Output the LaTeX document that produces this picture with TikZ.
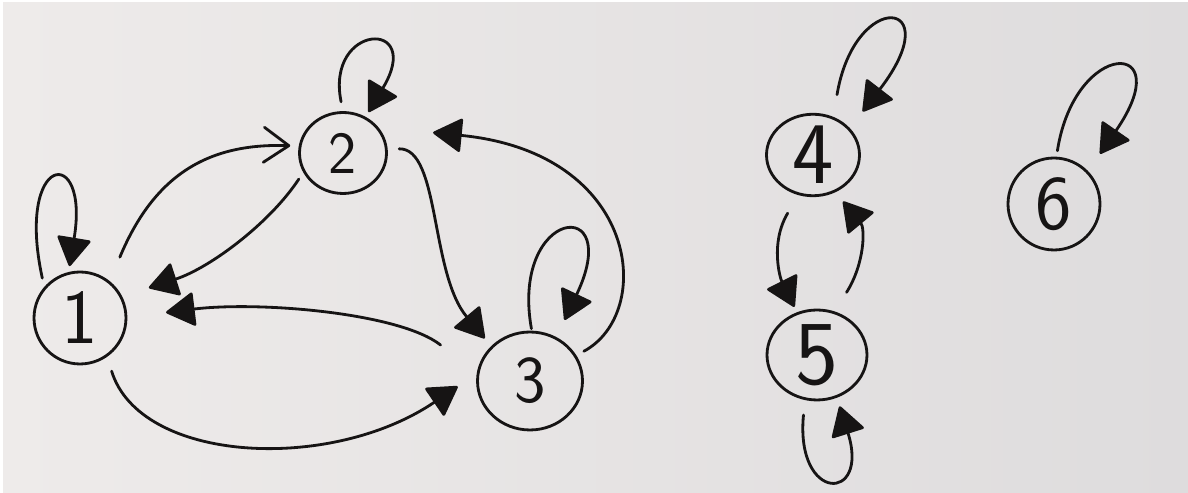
\documentclass[tikz,border=0pt]{standalone}
\usepackage{xcolor}
\usepackage{tikz}
\usetikzlibrary{arrows.meta,shapes.geometric}
\definecolor{paperLight}{RGB}{238,235,234}
\definecolor{paperDark} {RGB}{222,220,221}
\definecolor{ink}       {RGB}{22,20,20}

\begin{document}
\begin{tikzpicture}[x=0.02cm,y=0.02cm,
          st/.style={ellipse,draw=ink,text=ink,inner sep=0pt,line width=1.6pt},
          sz/.style={font=\sffamily\fontsize{#1}{#1}\selectfont},
          ar/.style={draw=ink,line width=1.6pt,line cap=round,
                     -{Triangle[length=6mm,width=7mm,round]}},
          barb/.style={draw=ink,line width=1.6pt,line cap=round,
                       -{Straight Barb[length=5mm,width=7mm,round]}},
        ]
        % Papel
        \useasboundingbox (0,0) rectangle (1188,493);
        \fill[white] (0,0) rectangle (1188,493);
        \shade[left color=paperLight,right color=paperDark] (3,0) rectangle (1188,490);
        % Nos
        \node[st,minimum width=1.84cm,minimum height=1.84cm,sz=44] (n1) at (80,175)   {1};
        \node[st,minimum width=1.74cm,minimum height=1.62cm,sz=34] (n2) at (343,340)  {2};
        \node[st,minimum width=2.10cm,minimum height=1.96cm,sz=38] (n3) at (530,112)  {3};
        \node[st,minimum width=1.86cm,minimum height=1.52cm,sz=50] (n4) at (813,338)  {4};
        \node[st,minimum width=2.00cm,minimum height=1.80cm,sz=52] (n5) at (817,138)  {5};
        \node[st,minimum width=1.84cm,minimum height=1.84cm,sz=44] (n6) at (1054,289) {6};
        % Arestas
        \draw[ar,shorten <=1.8mm,shorten >=1.2mm] (n1.139) .. controls (15,340) and (90,350) .. (n1.104);
        \draw[barb,shorten <=5.2mm,shorten >=1.7mm] (n1.51) .. controls (155,320) and (210,350) .. (n2.171);
        \draw[ar,shorten <=1.6mm,shorten >=5.6mm] (n2.206) .. controls (270,270) and (210,225) .. (n1.27);
        \draw[ar,shorten <=9.2mm,shorten >=7.8mm] (n3.172) .. controls (400,180) and (260,192) .. (n1.1);
        \draw[ar,shorten <=3mm,shorten >=4.6mm] (n1.-55) .. controls (140,30) and (330,20) .. (n3.172);
        \draw[ar,shorten <=1.9mm,shorten >=1.1mm] (n2.90) .. controls (325,470) and (425,475) .. (n2.58);
        \draw[ar,shorten <=2.3mm,shorten >=2mm] (n2.5) .. controls (440,345) and (430,220) .. (n3.138);
        \draw[ar,shorten <=1.7mm,shorten >=11mm] (n3.29) .. controls (655,180) and (640,340) .. (n2.36);
        \draw[ar,shorten <=0.4mm,shorten >=3.8mm] (n3.88) .. controls (510,285) and (625,300) .. (n3.59);
        \draw[ar,shorten <=4.5mm,shorten >=4.2mm] (n4.62) .. controls (855,505) and (950,495) .. (n4.36);
        \draw[ar,shorten <=4.2mm,shorten >=1.2mm] (n4.250) .. controls (770,250) and (780,215) .. (n5.115);
        \draw[ar,shorten <=4.5mm,shorten >=2.4mm] (n5.68) .. controls (865,230) and (865,265) .. (n4.-59);
        \draw[ar,shorten <=3mm,shorten >=1.8mm] (n5.255) .. controls (795,-10) and (870,-10) .. (n5.-65);
        \draw[ar,shorten <=1.2mm,shorten >=4.2mm] (n6.87) .. controls (1075,455) and (1180,455) .. (n6.44);
      \end{tikzpicture}
\end{document}
